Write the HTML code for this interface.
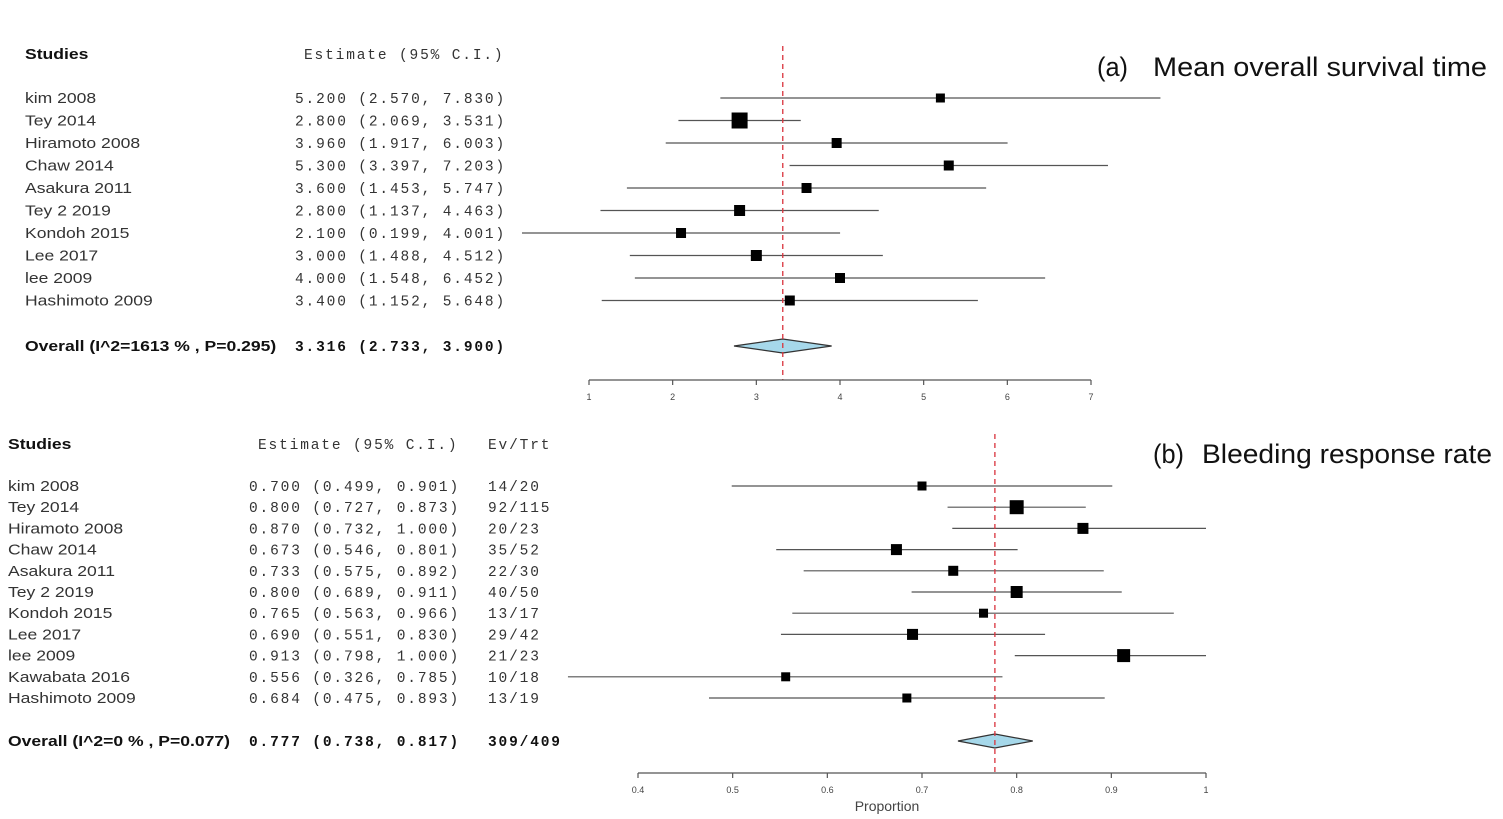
<!DOCTYPE html>
<html><head><meta charset="utf-8"><style>
html,body{margin:0;padding:0;background:#fff;}
svg{display:block;}
.st{font-family:"Liberation Sans",sans-serif;font-size:15px;fill:#333;}
.mono{font-family:"Liberation Mono",monospace;font-size:14.5px;fill:#333;letter-spacing:1.85px;}
.b{font-weight:bold;fill:#111;}
.tick{font-family:"Liberation Sans",sans-serif;font-size:9px;fill:#444;}
.ttl{font-family:"Liberation Sans",sans-serif;font-size:27px;fill:#111;}
</style></head><body>
<svg id="chart" width="1503" height="819" xmlns="http://www.w3.org/2000/svg">
<text class="ttl" x="1097" y="76" font-size="22" textLength="31" lengthAdjust="spacingAndGlyphs">(a)</text>
<text class="ttl" x="1153" y="76" textLength="334" lengthAdjust="spacingAndGlyphs">Mean overall survival time</text>
<text class="ttl" x="1153" y="463" font-size="22" textLength="31" lengthAdjust="spacingAndGlyphs">(b)</text>
<text class="ttl" x="1202" y="463" textLength="290" lengthAdjust="spacingAndGlyphs">Bleeding response rate</text>
<text class="st b sc" x="25" y="59">Studies</text>
<text class="mono" x="304" y="59">Estimate (95% C.I.)</text>
<text class="st b sc" x="8" y="449">Studies</text>
<text class="mono" x="258" y="449">Estimate (95% C.I.)</text>
<text class="mono" x="488" y="449">Ev/Trt</text>
<g id="ga"></g><g id="gb"></g>
</svg>
<script>
const NS='http://www.w3.org/2000/svg';
// Panel A data
const studiesA=['kim  2008','Tey 2014','Hiramoto 2008','Chaw  2014','Asakura 2011','Tey 2 2019','Kondoh 2015','Lee 2017','lee  2009','Hashimoto 2009'];
const estA=[5.2,2.8,3.96,5.3,3.6,2.8,2.1,3.0,4.0,3.4];
const lowA=[2.57,2.069,1.917,3.397,1.453,1.137,0.199,1.488,1.548,1.152];
const highA=[7.83,3.531,6.003,7.203,5.747,4.463,4.001,4.512,6.452,5.648];
const wA=[9,16,10,10,10,11,10,11,10,10];
const overallA=[3.316,2.733,3.9];
const ticksA=[1,2,3,4,5,6,7];
// Panel B data
const studiesB=['kim  2008','Tey 2014','Hiramoto 2008','Chaw  2014','Asakura 2011','Tey 2 2019','Kondoh 2015','Lee 2017','lee  2009','Kawabata 2016','Hashimoto 2009'];
const estB=[0.7,0.8,0.87,0.673,0.733,0.8,0.765,0.69,0.913,0.556,0.684];
const lowB=[0.499,0.727,0.732,0.546,0.575,0.689,0.563,0.551,0.798,0.326,0.475];
const highB=[0.901,0.873,1.0,0.801,0.892,0.911,0.966,0.830,1.0,0.785,0.893];
const evB=['14/20','92/115','20/23','35/52','22/30','40/50','13/17','29/42','21/23','10/18','13/19'];
const wB=[9,14,11,11,10,12,9,11,13,9,9];
const overallB=[0.777,0.738,0.817];
const evOverallB='309/409';
const ticksB=[0.4,0.5,0.6,0.7,0.8,0.9,1];

function el(p,t,a){const e=document.createElementNS(NS,t);for(const k in a)e.setAttribute(k,a[k]);p.appendChild(e);return e;}
function draw(g,cfg){
  const x=v=>cfg.x0+(v-cfg.d0)/(cfg.d1-cfg.d0)*(cfg.x1-cfg.x0);
  const f=cfg.fmt;
  cfg.studies.forEach((s,i)=>{
    const y=cfg.y0+i*cfg.dy;
    const t=el(g,'text',{class:'st sc',x:cfg.nameX,y:y+5});t.textContent=s;
    
    
    const m=el(g,'text',{class:'mono',x:cfg.estX,y:y+5});
    m.textContent=f(cfg.est[i])+' ('+f(cfg.low[i])+', '+f(cfg.high[i])+')';
    
    
    if(cfg.ev){const e=el(g,'text',{class:'mono',x:cfg.evX,y:y+5});e.textContent=cfg.ev[i];
      
      }
    const l=el(g,'line',{x1:x(cfg.low[i]),x2:x(cfg.high[i]),y1:y,y2:y,stroke:'#555','stroke-width':1.2});
    
    
    const w=cfg.w[i];
    const r=el(g,'rect',{x:x(cfg.est[i])-w/2,y:y-w/2,width:w,height:w,fill:'#000'});
    
    
  });
  const oy=cfg.oy, o=cfg.overall;
  const ot=el(g,'text',{class:'st b sc',x:cfg.nameX,y:oy+5});ot.textContent=cfg.overallLabel;
  
  
  const om=el(g,'text',{class:'mono b',x:cfg.estX,y:oy+5});om.textContent=f(o[0])+' ('+f(o[1])+', '+f(o[2])+')';
  
  
  if(cfg.evO){const e=el(g,'text',{class:'mono b',x:cfg.evX,y:oy+5});e.textContent=cfg.evO;
    
    }
  const d=el(g,'polygon',{points:`${x(o[1])},${oy} ${x(o[0])},${oy-7} ${x(o[2])},${oy} ${x(o[0])},${oy+7}`,fill:'#a6d8ea',stroke:'#333','stroke-width':1.2});
  
  
  const rl=el(g,'line',{x1:x(o[0]),x2:x(o[0]),y1:cfg.refTop,y2:cfg.ay,stroke:'#d9323c','stroke-width':1.3,'stroke-dasharray':'5,4'});
  
  
  const ax=el(g,'line',{x1:cfg.x0,x2:cfg.x1,y1:cfg.ay,y2:cfg.ay,stroke:'#555','stroke-width':1.2});
  
  
  cfg.ticks.forEach(tv=>{
    const tk=el(g,'line',{x1:x(tv),x2:x(tv),y1:cfg.ay,y2:cfg.ay+5,stroke:'#555','stroke-width':1.2});
    
    
    const tl=el(g,'text',{class:'tick',x:x(tv),y:cfg.ay+20,'text-anchor':'middle'});tl.textContent=String(tv);
    
    
  });
}
draw(document.getElementById('ga'),{studies:studiesA,est:estA,low:lowA,high:highA,w:wA,overall:overallA,ticks:ticksA,
  x0:589,x1:1091,d0:1,d1:7,y0:98,dy:22.5,oy:346,ay:380,refTop:46,nameX:25,estX:295,
  fmt:v=>v.toFixed(3),overallLabel:'Overall (I^2=1613 % , P=0.295)'});
draw(document.getElementById('gb'),{studies:studiesB,est:estB,low:lowB,high:highB,w:wB,overall:overallB,ticks:ticksB,ev:evB,evO:evOverallB,
  x0:638,x1:1206,d0:0.4,d1:1,y0:486,dy:21.2,oy:741,ay:773,refTop:434,nameX:8,estX:249,evX:488,
  fmt:v=>v.toFixed(3),overallLabel:'Overall (I^2=0 % , P=0.077)'});
const pl=el(document.getElementById('gb'),'text',{x:887,y:811,'text-anchor':'middle','font-family':'Liberation Sans, sans-serif','font-size':'14px',fill:'#444'});
pl.textContent='Proportion';


// widen study-name text to match reference font width
document.querySelectorAll('.sc').forEach(t=>{
  const w=t.getComputedTextLength();
  t.setAttribute('textLength',(w*1.17).toFixed(1));
  t.setAttribute('lengthAdjust','spacingAndGlyphs');
});
</script>
</body></html>
